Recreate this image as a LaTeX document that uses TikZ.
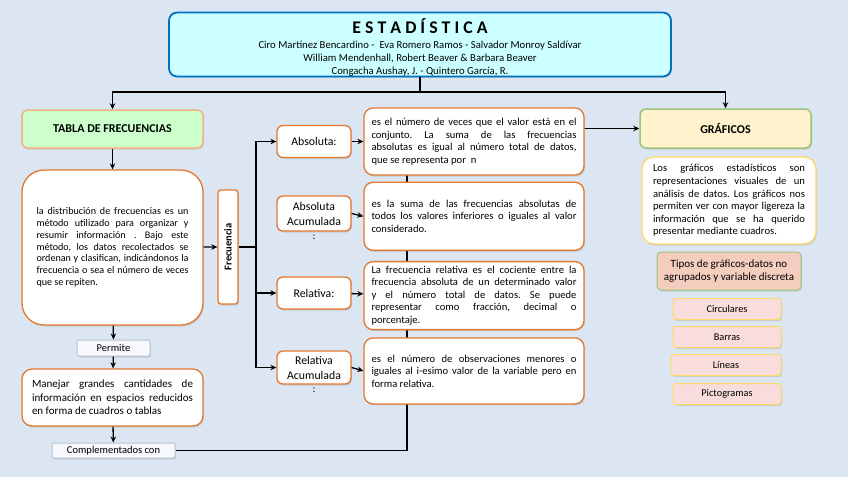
\documentclass[tikz,border=0pt]{standalone}
\usepackage{fontspec}
\setmainfont{Carlito}
\usetikzlibrary{positioning, arrows.meta, shadows, calc}
\definecolor{estBg}{HTML}{DCE6F2}
\definecolor{estBlue}{HTML}{0070C0}
\definecolor{estCyan}{HTML}{CCFFFF}
\definecolor{estOrange}{HTML}{E2782F}
\definecolor{estPeach}{HTML}{F4B183}
\definecolor{estMint}{HTML}{CCFFCC}
\definecolor{estCream}{HTML}{FFF2CC}
\definecolor{estGreen}{HTML}{9BC47A}
\definecolor{estYellow}{HTML}{FFD966}
\definecolor{estSalmon}{HTML}{F4CDBE}
\definecolor{estPink}{HTML}{F9DCDC}
\definecolor{estGray}{HTML}{B8C4D2}
\definecolor{estLabel}{HTML}{F6F8FB}
\pgfdeclarelayer{behind}
\pgfsetlayers{behind,main}

\begin{document}
\hyphenpenalty=10000 \exhyphenpenalty=10000 \frenchspacing
\begin{tikzpicture}[
    x=1pt, y=-1pt,
    shd/.style={drop shadow={shadow xshift=1pt, shadow yshift=-1.5pt, opacity=0.25}},
    tit/.style={
        draw=estBlue, line width=1.8pt, fill=estCyan, rounded corners=8pt,
        minimum width=502pt, minimum height=63pt, align=center, inner sep=0pt,
        font=\fontsize{10.7}{13}\selectfont, shd
    },
    cab/.style={
        line width=1.5pt, rounded corners=6pt, font=\fontsize{12}{14}\selectfont\bfseries,
        shd
    },
    dist/.style={
        draw=estOrange, line width=1.3pt, fill=white, align=justify, shd
    },
    des/.style={
        dist, rounded corners=9pt, text width=205pt, inner xsep=7.5pt, inner ysep=0pt,
        minimum width=220pt, font=\fontsize{10.6}{12.5}\selectfont
    },
    cla/.style={
        dist, rounded corners=6pt, align=center, inner sep=0pt, minimum width=74pt,
        minimum height=32pt, font=\fontsize{11.8}{15}\selectfont
    },
    etq/.style={
        draw=estGray, line width=1pt, fill=estLabel, rounded corners=2pt, inner sep=0pt,
        font=\fontsize{10.5}{12}\selectfont, shd
    },
    tip/.style={
        draw=estYellow, line width=1pt, fill=estPink, rounded corners=3pt, inner sep=0pt,
        minimum width=108pt, minimum height=21pt, font=\fontsize{10.3}{12}\selectfont, shd
    },
    dots/.style={font=\fontsize{10.5}{12}\selectfont, inner sep=0pt},
    flecha/.style={line width=1.3pt, -{Stealth[length=6pt,width=5.5pt]}},
    linea/.style={line width=1.3pt}
]

% === Fondo ===
\begin{pgfonlayer}{behind}
\fill[estBg] (0,0) rectangle (848,477);
\end{pgfonlayer}
\useasboundingbox (0,0) rectangle (848,477);

% === Titulo ===
\node[tit] (estad) at (420,44.5) {%
    \rule{0pt}{21pt}{\fontsize{17.8}{19}\selectfont\bfseries E S T A D Í S T I C A}\\[2pt]
    Ciro Martínez Bencardino -\ \ Eva Romero Ramos - Salvador Monroy Saldívar\\
    William Mendenhall, Robert Beaver \& Barbara Beaver\\
    Congacha Aushay, J. - Quintero García, R.};

% === Columna izquierda ===
\node[cab, draw=estPeach, fill=estMint, minimum width=181pt, minimum height=38pt]
      (tabla) at (112.5,129) {TABLA DE FRECUENCIAS};

\node[dist, rounded corners=22pt, text width=152pt, inner xsep=14.5pt, minimum height=155pt,
      font=\fontsize{10.1}{11.8}\selectfont] (distr) at (112.5,247.5)
      {la distribución de frecuencias es un\linebreak método utilizado para organizar y\linebreak
       resumir información . Bajo este\linebreak método, los datos recolectados se\linebreak
       ordenan y clasifican, indicándonos la\linebreak frecuencia o sea el número de veces\linebreak
       que se repiten.};

\node[etq, minimum width=73pt, minimum height=16pt] (permite) at (113.5,348) {Permite};

\node[dist, rounded corners=10pt, text width=161pt, inner xsep=10pt, minimum height=57pt,
      font=\fontsize{11}{13.3}\selectfont] (manejar) at (112.5,397.5)
      {Manejar grandes cantidades de\linebreak información en espacios reducidos\linebreak
       en forma de cuadros o tablas};

\node[etq, minimum width=123pt, minimum height=15pt] (compl) at (113.5,450.5) {Complementados con};

% === Frecuencia ===
\node[dist, rounded corners=3pt, rotate=90, minimum width=114pt, minimum height=20pt,
      inner sep=0pt, align=center, font=\fontsize{10.5}{12}\selectfont\bfseries]
      (frec) at (228,247) {Frecuencia};

% Tipos de frecuencia
\node[cla] (abs) at (314,141.5) {Absoluta:};
\node[cla, minimum height=35pt] (absac) at (314,213.5) {Absoluta\\Acumulada};
\node[dots, below=3pt of absac] (absacp) {:};
\node[cla] (rel) at (314,293) {Relativa:};
\node[cla, minimum height=33pt] (relac) at (314,367.5) {Relativa\\Acumulada};
\node[dots, below=3pt of relac] (relacp) {:};

% Definiciones
\node[des, minimum height=67pt] (d1) at (474,141.5)
      {es el número de veces que el valor está en el\linebreak conjunto. La suma de las frecuencias\linebreak
       absolutas es igual al número total de datos,\linebreak que se representa por\ \ n};
\node[des, minimum height=68pt, below=6pt of d1] (d2)
      {es la suma de las frecuencias absolutas de\linebreak todos los valores inferiores o iguales al valor\linebreak
       considerado.};
\node[des, minimum height=68pt, below=10pt of d2] (d3)
      {La frecuencia relativa es el cociente entre la\linebreak frecuencia absoluta de un determinado valor\linebreak
       y el número total de datos. Se puede\linebreak representar como fracción, decimal o\linebreak
       porcentaje.};
\node[des, minimum height=66pt, below=7pt of d3] (d4)
      {es el número de observaciones menores o\linebreak iguales al i-esimo valor de la variable pero en\linebreak
       forma relativa.};

% === Columna derecha ===
\node[cab, draw=estGreen, fill=estCream, minimum width=171pt, minimum height=39pt]
      (graf) at (725.5,128.5) {GRÁFICOS};

\node[dist, draw=estYellow, rounded corners=12pt, text width=152pt, inner xsep=11pt,
      minimum height=87pt, font=\fontsize{10.6}{12.6}\selectfont] (grfdes) at (729,200.5)
      {Los gráficos estadísticos son\linebreak representaciones visuales de un\linebreak
       análisis de datos. Los gráficos nos\linebreak permiten ver con mayor ligereza la\linebreak
       información que se ha querido\linebreak presentar mediante cuadros.};

\node[draw=estGreen, line width=1pt, fill=estSalmon, rounded corners=4pt, align=center,
      minimum width=144pt, minimum height=38pt, inner sep=0pt,
      font=\fontsize{11}{13}\selectfont, shd] (tipos) at (729,271)
      {Tipos de gráficos-datos no\\agrupados y variable discreta};

\node[tip] (circ) at (727,309) {Circulares};
\node[tip, below=6pt of circ] (barras) {Barras};
\node[tip, minimum width=110pt, below=6pt of barras, xshift=-1pt] (lineas) {Líneas};
\node[tip, below=7pt of lineas, xshift=1pt] (picto) {Pictogramas};

% === Conectores ===
\coordinate (split) at (420,92);
\draw[linea] (estad.south) -- (split);
\draw[flecha] (split) -| (tabla.north);
\draw[flecha] (split) -| (graf.north);

\draw[flecha] (tabla) -- (distr);
\draw[flecha] (distr) -- (frec.north);
\draw[flecha] (distr) -- (permite);
\draw[flecha] (permite) -- (manejar);
\draw[flecha] (manejar) -- (compl);

\coordinate (fork) at (256,247);
\draw[linea] (frec.south) -- (fork);
\draw[flecha] (fork) |- (abs.west);
\draw[flecha] (fork) |- (rel.west);
\draw[flecha] (fork) |- (relac.west);

\draw[flecha] (abs) -- (d1);
\draw[flecha] (absac.east) -- (d2.west);
\draw[flecha] (rel) -- (d3);
\draw[flecha] (relac.east) -- (d4.west);

% linea de retorno (detras de las definiciones)
\begin{pgfonlayer}{behind}
\coordinate (spine) at (407,128.5);
\draw[flecha] (compl.east) -| (spine) -- (graf.west);
\end{pgfonlayer}

\end{tikzpicture}
\end{document}
